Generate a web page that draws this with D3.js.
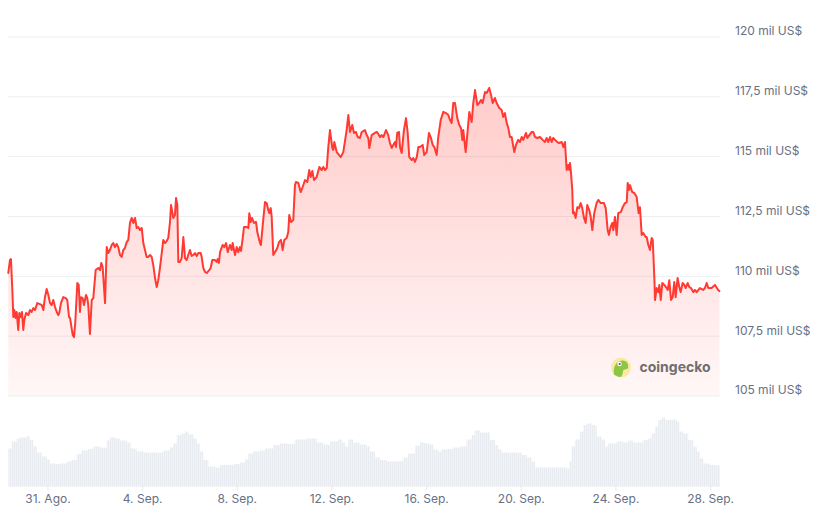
<!DOCTYPE html>
<html>
<head>
<meta charset="utf-8">
<script src="https://cdn.jsdelivr.net/npm/d3@7"></script>
<style>
  html, body { margin: 0; padding: 0; background: #ffffff; }
  svg { display: block; font-family: Inter, "Noto Sans", sans-serif; }
</style>
</head>
<body>
<svg id="chart" width="825" height="521"></svg>
<script>
// ---------- DATA ----------
// Series start: 29 Aug 2025 08:00 UTC; time offsets in hours
const startTime = Date.UTC(2025, 7, 29, 8);
const spanHours = 722;

const priceHours = [
  0.3,2.0,3.0,4.4,5.4,6.4,7.8,8.8,10.4,11.5,
  12.9,14.2,15.5,16.5,18.3,20.6,22.3,24.0,25.7,27.4,
  29.7,32.4,34.2,35.8,37.5,39.2,40.9,42.6,44.3,45.9,
  47.7,49.4,51.0,52.0,53.7,56.1,58.5,60.1,61.9,62.9,
  65.6,66.9,68.2,70.3,71.7,73.0,74.0,75.7,77.1,79.1,
  80.4,81.4,83.1,84.9,86.5,88.9,91.6,93.3,94.6,96.0,
  98.4,100.1,101.7,103.4,105.2,106.8,108.5,110.2,111.8,113.6,
  115.3,116.9,118.6,120.4,122.0,123.7,125.4,127.1,128.8,130.5,
  132.1,133.8,135.6,137.2,138.9,140.6,142.3,144.0,145.7,147.3,
  149.1,150.8,152.4,154.1,155.9,157.5,159.2,160.9,162.5,164.3,
  165.3,166.6,167.6,169.3,170.4,171.7,172.7,174.4,176.1,177.8,
  179.5,181.2,182.8,184.5,186.3,187.9,189.6,191.3,193.0,195.4,
  196.4,198.0,199.8,201.5,204.1,205.5,207.2,209.9,211.6,212.6,
  213.9,215.0,217.7,219.3,221.1,222.8,225.1,226.8,227.8,230.2,
  231.9,233.5,235.2,236.3,238.0,239.3,242.0,243.7,244.7,246.1,
  247.4,249.4,251.5,252.8,255.5,256.5,258.3,260.6,262.3,263.9,
  265.0,266.4,267.4,269.0,270.7,273.1,274.8,276.8,278.5,280.2,
  282.6,284.2,285.2,287.0,289.3,291.0,292.0,294.4,296.8,298.8,
  301.2,303.5,305.5,306.9,308.6,310.3,313.0,315.7,318.1,319.7,
  321.4,323.2,324.8,326.5,328.9,329.9,330.9,333.3,335.6,337.4,
  340.0,343.4,345.1,346.8,349.1,350.8,352.9,354.6,356.9,358.7,
  362.0,363.7,365.4,366.4,368.8,372.1,373.9,375.5,377.2,378.9,
  380.6,383.3,385.6,387.3,389.1,390.7,392.4,393.4,394.7,396.5,
  397.5,399.2,401.5,403.6,405.3,406.9,409.4,411.0,412.7,414.5,
  416.1,417.8,420.5,422.1,424.6,426.9,428.9,430.7,432.3,434.7,
  436.3,438.8,441.4,444.1,446.5,448.2,449.9,451.5,453.3,455.6,
  457.6,459.3,460.7,461.7,462.7,464.1,465.7,467.8,470.2,471.8,
  473.6,475.9,477.9,479.6,481.3,483.7,485.4,488.0,489.8,491.5,
  493.8,495.5,498.2,500.6,502.2,503.9,505.7,507.3,509.0,510.7,
  513.4,515.1,517.4,519.2,520.9,522.5,525.3,526.6,528.6,531.1,
  532.7,534.4,536.8,539.4,542.2,544.5,546.2,547.9,549.6,551.3,
  552.9,554.7,557.0,559.0,561.5,563.1,564.8,566.5,568.1,569.2,
  569.9,570.9,572.2,572.9,573.9,575.6,577.3,579.0,580.7,582.3,
  584.1,585.8,587.4,589.4,590.9,592.5,594.5,596.9,598.6,601.0,
  604.3,606.1,608.1,609.4,611.1,612.8,613.8,615.5,617.2,618.8,
  621.6,623.3,625.6,627.4,628.4,629.7,630.7,633.0,635.1,637.5,
  639.5,640.8,642.6,644.2,646.6,647.6,649.3,651.0,652.7,653.8,
  655.4,656.1,657.8,659.5,660.5,661.9,663.5,665.5,668.0,669.0,
  670.6,672.3,674.0,675.6,677.0,679.0,680.7,682.1,684.1,685.8,
  687.2,689.2,690.9,692.6,694.9,696.6,698.3,701.6,705.0,706.7,
  708.5,710.1,713.5,716.9,720.2,721.4
];

const prices = [
  110120,110660,110700,109410,108280,108570,108240,108490,107740,108450,
  108280,108490,107740,108150,108450,108360,108570,108490,108650,108570,
  108860,108820,108780,108570,109110,109450,109200,108860,108780,108990,
  108700,108490,108360,108450,108860,109110,109070,108990,108280,108240,
  107530,107440,108030,109700,109620,108490,109110,109070,108780,109200,
  109070,108780,107570,108990,109070,110240,110330,110240,110540,110370,
  108860,111200,110950,111080,111290,111370,111200,111330,111200,110870,
  110790,111080,111160,111410,111500,112210,112420,112210,112420,112000,
  112040,111910,112000,111370,111080,110790,110790,110870,110790,110450,
  109910,109530,109820,110330,110950,111500,111370,111450,111580,112250,
  112960,112670,112420,112540,113250,112960,110580,110580,110740,111620,
  110740,110660,110870,111080,110830,110870,110950,110830,110950,110950,
  110790,110330,110160,110120,110240,110330,110660,110660,110580,110700,
  110540,110990,111290,111200,111370,110990,111290,111080,111370,110870,
  111200,110990,111200,111040,111580,112040,112040,112000,112620,112250,
  112420,112210,112250,111830,111370,111290,112120,113080,113040,112750,
  112620,112830,112460,110870,110990,111160,111410,111500,111080,111500,
  111580,111830,112540,112250,112330,113790,113920,113880,113500,113710,
  114000,113920,114420,114130,114380,114000,114130,114550,114420,114550,
  114420,114500,115380,116090,115340,115260,115590,115170,115050,114960,
  115170,116090,116720,116010,116300,115970,116010,115800,115760,116010,
  116090,115880,115760,115340,115880,115970,116010,115930,115800,115880,
  115800,116090,115880,115550,115340,115470,115590,115380,115970,116010,
  115380,115130,116090,116590,115970,114960,114840,114920,114760,114960,
  115380,115380,115470,115050,115170,115970,115760,115470,115380,115050,
  115800,116510,116850,116800,116720,116510,116390,117220,117220,116590,
  116300,116180,115680,116090,115680,115170,115880,116850,116430,117220,
  117760,117140,117220,117350,117220,117680,117640,117850,117560,117220,
  117430,117220,117010,116930,116640,116800,116390,116180,115800,115800,
  115170,115470,115680,115590,115800,115680,115970,115760,115880,116010,
  116010,115800,115760,115800,115680,115590,115760,115590,115800,115590,
  115760,115680,115590,115550,115590,115380,115590,114420,114630,114420,
  114710,114300,113590,112620,112670,112420,112870,112830,113040,112830,
  112420,112210,112960,112750,112460,111910,112620,113040,113170,113040,
  113040,112830,111910,111710,112040,112210,111910,112460,111710,112620,
  112670,112870,113040,113080,113880,113590,113790,113500,113460,113290,
  112620,112870,111710,111790,111620,111620,111290,111080,111580,111500,
  109950,108990,109490,109320,109620,108990,109700,109620,109490,109410,
  109820,108990,109110,109740,109110,109910,109530,109320,109700,109620,
  109490,109700,109530,109490,109320,109410,109320,109490,109410,109490,
  109700,109490,109490,109620,109410,109360
];

// 24h volume (billion US$) at hour offsets
const volumeHours = [
  0.3,3.8,8.8,12.2,19.0,22.3,25.7,29.1,34.2,39.2,
  42.6,47.7,52.7,59.5,64.6,69.7,74.7,81.4,86.5,93.3,
  98.4,100.1,103.4,108.5,113.6,120.4,124.4,130.5,137.2,150.8,
  157.5,164.3,167.6,171.1,176.1,179.5,182.8,187.9,191.3,194.7,
  198.0,203.1,209.9,215.0,228.5,235.2,240.3,243.7,248.7,255.5,
  260.6,265.7,269.0,275.8,282.6,289.3,291.0,302.9,307.9,313.0,
  319.7,324.8,326.5,331.6,334.9,338.4,341.7,345.1,350.1,356.9,
  363.7,367.1,372.1,377.2,384.0,390.7,395.8,400.8,405.9,412.7,
  417.8,422.8,427.9,431.3,436.3,439.8,446.5,451.5,458.3,463.4,
  465.1,470.2,473.5,478.6,487.0,488.7,493.8,497.2,500.6,509.0,
  514.1,520.9,526.0,531.0,534.4,566.5,569.2,571.6,574.9,580.0,
  583.4,586.8,591.9,595.2,596.9,602.0,605.4,608.7,617.2,623.9,
  629.0,634.1,644.2,649.3,652.7,656.1,659.5,662.9,666.2,674.6,
  678.0,680.7,684.7,689.8,694.9,698.3,701.7,705.1,711.8,718.6,
  721.9
];
const volumes = [
  37,44,47,48,49.5,45.5,39,33,29,26,
  22,21.5,22,24,25.5,31.5,35,36.5,39,38,
  37,45,48,47,45,43,37,34,33,33,
  35,38,42,50.5,52,54,51,47,42,34,
  25.5,19,18,20.5,21.5,23,26,32,34,35,
  37,37,40.5,42,41.5,42,46,47,47,43,
  41,40.5,44,44,46,43,39,46,43,41,
  39,34,28,25.5,24,24,24.5,28,32,40,
  43,42,41,36,34,36,36.5,38,39,39,
  46,50.5,55,53,53,45.5,40.5,36,33,33,
  33,30.5,28,24,18,17,24,39,46,54,
  60.5,62,60.5,59.5,49,46,39,42,44,43,
  45,43,45.5,47,52,59,65.5,68,65.5,66,
  64,54,52,45.5,39,34,27,22,20.5,20,
  19
];

const yTickValues = [105000, 107500, 110000, 112500, 115000, 117500, 120000];
const yTickLabels = ["105 mil US$", "107,5 mil US$", "110 mil US$", "112,5 mil US$",
                     "115 mil US$", "117,5 mil US$", "120 mil US$"];
const xTickDates = ["2025-08-31", "2025-09-04", "2025-09-08", "2025-09-12",
                    "2025-09-16", "2025-09-20", "2025-09-24", "2025-09-28"];
const xTickLabels = ["31. Ago.", "4. Sep.", "8. Sep.", "12. Sep.",
                     "16. Sep.", "20. Sep.", "24. Sep.", "28. Sep."];

// ---------- CHART ----------
const HOUR = 3600 * 1000;
const toDate = h => new Date(startTime + h * HOUR);

const svg = d3.select("#chart");
const plotLeft = 8, plotRight = 720;
const priceTop = 36.5, priceBottom = 395.5;
const volBottom = 485.5;

const x = d3.scaleUtc()
  .domain([toDate(0), toDate(spanHours)])
  .range([plotLeft, plotRight]);
const y = d3.scaleLinear()
  .domain([105000, 120000])
  .range([priceBottom, priceTop]);
const yv = d3.scaleLinear()
  .domain([0, 70])
  .range([volBottom, volBottom - 70]);

const priceData = priceHours.map((h, i) => ({ t: toDate(h), v: prices[i] }))
  .filter(d => d.v != null);
const volData = volumeHours.map((h, i) => ({ t: toDate(h), v: volumes[i] }));

const defs = svg.append("defs");
const grad = defs.append("linearGradient")
  .attr("id", "priceFill")
  .attr("gradientUnits", "userSpaceOnUse")
  .attr("x1", 0).attr("x2", 0)
  .attr("y1", y(d3.max(prices))).attr("y2", priceBottom);
grad.append("stop").attr("offset", 0).attr("stop-color", "#ff3a33").attr("stop-opacity", 0.26);
grad.append("stop").attr("offset", 1).attr("stop-color", "#ff3a33").attr("stop-opacity", 0.04);

const pat = defs.append("pattern")
  .attr("id", "volStripes")
  .attr("patternUnits", "userSpaceOnUse")
  .attr("width", 2).attr("height", 10);
pat.append("rect").attr("width", 2).attr("height", 10).attr("fill", "#f5f6f8");
pat.append("rect").attr("width", 1.2).attr("height", 10).attr("fill", "#e8ebef");

// Y axis with gridlines (right side)
const yAxis = d3.axisRight(y)
  .tickValues(yTickValues)
  .tickFormat((d, i) => yTickLabels[i])
  .tickSize(-(plotRight - plotLeft))
  .tickPadding(15);
const gy = svg.append("g")
  .attr("transform", `translate(${plotRight},0)`)
  .call(yAxis);
gy.select(".domain").remove();
gy.selectAll(".tick line").attr("stroke", "#eceef1").attr("stroke-width", 1);
gy.selectAll(".tick text")
  .attr("dy", "-0.13em")
  .attr("fill", "#677084")
  .style("font-size", "12px")
  .style("font-family", "Inter, 'Noto Sans', sans-serif");

// Volume
const volArea = d3.area()
  .x(d => x(d.t))
  .y0(volBottom)
  .y1(d => yv(d.v))
  .curve(d3.curveStepAfter);
svg.append("path")
  .datum(volData)
  .attr("d", volArea)
  .attr("fill", "url(#volStripes)");

// Price area + line
const area = d3.area()
  .x(d => x(d.t))
  .y0(priceBottom)
  .y1(d => y(d.v));
svg.append("path")
  .datum(priceData)
  .attr("d", area)
  .attr("fill", "url(#priceFill)");

const line = d3.line()
  .x(d => x(d.t))
  .y(d => y(d.v));
svg.append("path")
  .datum(priceData)
  .attr("d", line)
  .attr("fill", "none")
  .attr("stroke", "#ff3a33")
  .attr("stroke-width", 2)
  .attr("stroke-linejoin", "round")
  .attr("stroke-linecap", "round");

// X axis
const xAxis = d3.axisBottom(x)
  .tickValues(xTickDates.map(s => new Date(s + "T00:00:00Z")))
  .tickFormat((d, i) => xTickLabels[i])
  .tickSize(5)
  .tickSizeOuter(0)
  .tickPadding(4);
const gx = svg.append("g")
  .attr("transform", `translate(0,${volBottom})`)
  .call(xAxis);
gx.select(".domain").attr("stroke", "#e6e8ec");
gx.selectAll(".tick line").attr("stroke", "#e6e8ec");
gx.selectAll(".tick text")
  .attr("fill", "#677084")
  .style("font-size", "12px")
  .style("font-family", "Inter, 'Noto Sans', sans-serif");

// Watermark
const wm = svg.append("g").attr("transform", "translate(621,367.5)");
wm.append("circle").attr("r", 10).attr("fill", "#f9e9a2");
wm.append("path")
  .attr("d", "M-7,7 C-8,1 -6,-6 1,-7 C6,-7.5 8,-3 7,1 C5,2 3,2 2,3 C2,6 1,8 0,9.5 C-3,9.5 -5,8.5 -7,7 Z")
  .attr("fill", "#8dc647");
wm.append("circle").attr("cx", -1.5).attr("cy", -3.5).attr("r", 2.2).attr("fill", "#ffffff");
wm.append("circle").attr("cx", -1.3).attr("cy", -3.5).attr("r", 1.1).attr("fill", "#5a5a5a");
svg.append("text")
  .attr("x", 639.5).attr("y", 371.5)
  .attr("fill", "#6f6f6f")
  .style("font-size", "14px")
  .style("font-weight", "700")
  .style("font-family", "Inter, 'Noto Sans', sans-serif")
  .text("coingecko");
</script>
</body>
</html>
